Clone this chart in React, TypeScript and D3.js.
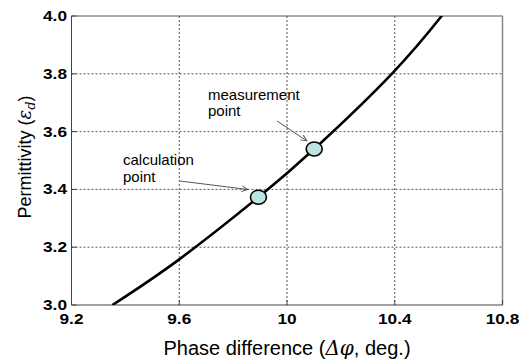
import React from "react";
import * as d3 from "d3";

const curveX = [9.352, 9.6, 9.894, 10.101, 10.389, 10.574, 10.62];
const curveY = [3.0, 3.158, 3.373, 3.54, 3.8, 4.0, 4.055];
const pointX = [9.894, 10.101];
const pointY = [3.373, 3.54];
const xTicks = [9.2, 9.6, 10.0, 10.4, 10.8];
const xTickLabels = ["9.2", "9.6", "10", "10.4", "10.8"];
const yTicks = [3.0, 3.2, 3.4, 3.6, 3.8, 4.0];
const yTickLabels = ["3.0", "3.2", "3.4", "3.6", "3.8", "4.0"];

export default function App() {
  const W = 530, H = 359;
  const L = 71.5, R = 502.5, T = 16, B = 305;
  const x = d3.scaleLinear().domain([9.2, 10.8]).range([L, R]);
  const y = d3.scaleLinear().domain([3.0, 4.0]).range([B, T]);
  const line = d3
    .line<number>()
    .x((_, i) => x(curveX[i]))
    .y((_, i) => y(curveY[i]))
    .curve(d3.curveNatural);
  const font = "'Liberation Sans', Arial, sans-serif";
  const sx = 1.15;
  return (
    <svg width={W} height={H} style={{ position: "absolute", left: 0, top: 0, background: "#fff" }}>
      <defs>
        <clipPath id="plot">
          <rect x={L} y={T} width={R - L} height={B - T} />
        </clipPath>
        <marker id="arr" viewBox="0 0 10 10" refX="9" refY="5" markerWidth="7" markerHeight="7" orient="auto">
          <path d="M0,1 L9,5 L0,9" fill="none" stroke="#555" strokeWidth="1.3" />
        </marker>
      </defs>
      {xTicks.slice(1, -1).map((t) => (
        <line key={"gx" + t} x1={x(t)} x2={x(t)} y1={T} y2={B} stroke="#555" strokeWidth={1} strokeDasharray="2,2" />
      ))}
      {yTicks.slice(1, -1).map((t) => (
        <line key={"gy" + t} x1={L} x2={R} y1={y(t)} y2={y(t)} stroke="#555" strokeWidth={1} strokeDasharray="2,2" />
      ))}
      <line x1={L} x2={R} y1={T} y2={T} stroke="#555" strokeWidth={1} />
      <line x1={R} x2={R} y1={T} y2={B} stroke="#888" strokeWidth={1.5} />
      <line x1={L} x2={L} y1={T} y2={B} stroke="#444" strokeWidth={1} />
      <line x1={L} x2={R} y1={B} y2={B} stroke="#444" strokeWidth={1} />
      {xTicks.map((t) => (
        <line key={"tx" + t} x1={x(t)} x2={x(t)} y1={B} y2={B - 5} stroke="#444" />
      ))}
      {yTicks.map((t) => (
        <line key={"ty" + t} x1={L} x2={L + 5} y1={y(t)} y2={y(t)} stroke="#444" />
      ))}
      <path d={line(curveX) || ""} fill="none" stroke="#000" strokeWidth={2.6} clipPath="url(#plot)" />
      <line x1={277} y1={121} x2={307} y2={141} stroke="#555" strokeWidth={1} markerEnd="url(#arr)" />
      <line x1={180} y1={181} x2={248} y2={189.5} stroke="#555" strokeWidth={1} markerEnd="url(#arr)" />
      {pointX.map((px, i) => (
        <ellipse key={"p" + i} cx={x(px)} cy={y(pointY[i])} rx={8} ry={7} fill="#bde3e3" stroke="#000" strokeWidth={1.6} />
      ))}
      <g fontFamily={font} fontSize={15} fill="#000">
        <text x={208} y={100}>measurement</text>
        <text x={208} y={116}>point</text>
        <text x={123} y={165}>calculation</text>
        <text x={123} y={182}>point</text>
      </g>
      <g fontFamily={font} fontSize={15} fontWeight="bold" fill="#000">
        {xTicks.map((t, i) => (
          <text key={"lx" + t} transform={`translate(${x(t)},324) scale(${sx},1)`} textAnchor="middle">
            {xTickLabels[i]}
          </text>
        ))}
        {yTicks.map((t, i) => (
          <text key={"ly" + t} transform={`translate(67,${y(t) + 5}) scale(${sx},1)`} textAnchor="end">
            {yTickLabels[i]}
          </text>
        ))}
      </g>
      <text x={287} y={355} textAnchor="middle" fontFamily={font} fontSize={20} fill="#000">
        Phase difference (<tspan fontStyle="italic" fontFamily="'DejaVu Serif', serif">Δφ</tspan>, deg.)
      </text>
      <text
        transform="translate(31,157) rotate(-90)"
        textAnchor="middle"
        fontFamily={font}
        fontSize={18}
        fill="#000"
      >
        Permittivity (<tspan fontStyle="italic" fontFamily="'DejaVu Serif', serif">ε</tspan>
        <tspan fontStyle="italic" fontFamily="'DejaVu Serif', serif" fontSize={13} dy={4}>d</tspan>
        <tspan dy={-4}>)</tspan>
      </text>
    </svg>
  );
}
